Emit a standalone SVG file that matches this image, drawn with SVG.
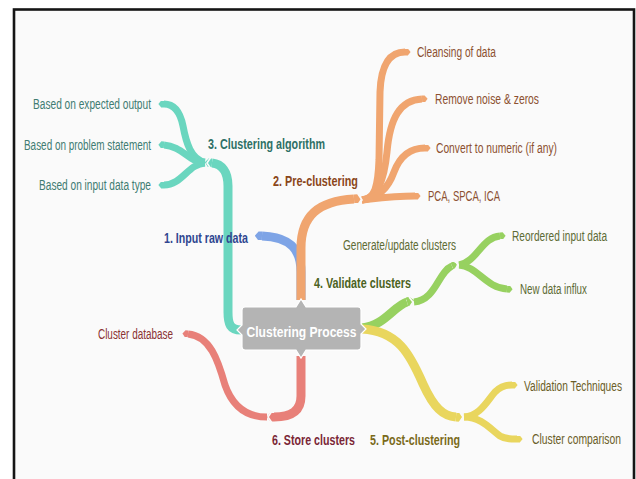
<svg xmlns="http://www.w3.org/2000/svg" width="636" height="479" viewBox="0 0 636 479">
  <defs>
    <style>
      .br { fill: none; stroke-linecap: butt; stroke-linejoin: round; }
      .main { stroke-width: 9; }
      .sub { stroke-width: 7; }
      .teal { stroke: #6ad6bf; }
      .orange { stroke: #f0a56f; }
      .blue { stroke: #7ea4e6; }
      .green { stroke: #97d160; }
      .yellow { stroke: #e9d65e; }
      .red { stroke: #e88079; }
      .notch { fill: none; stroke: #fafafa; stroke-width: 1.6; }
      text { font-family: "Liberation Sans", Arial, sans-serif; font-size: 14.5px; }
      .lbl { font-weight: bold; font-size: 15px; }
      .t-teal { fill: #3f7c72; }
      .t-orange { fill: #8c5030; }
      .t-green { fill: #5d6b34; }
      .t-yellow { fill: #6b5e28; }
      .t-red { fill: #8a3232; }
    </style>
    <marker id="tip-teal" viewBox="0 -0.5 0.8 1" refX="0" refY="0" markerWidth="0.8" markerHeight="1" orient="auto"><path d="M0,-0.5 L0.4,-0.5 L0.8,0 L0.4,0.5 L0,0.5 Z" fill="#6ad6bf"/></marker>
    <marker id="tip-orange" viewBox="0 -0.5 0.8 1" refX="0" refY="0" markerWidth="0.8" markerHeight="1" orient="auto"><path d="M0,-0.5 L0.4,-0.5 L0.8,0 L0.4,0.5 L0,0.5 Z" fill="#f0a56f"/></marker>
    <marker id="tip-blue" viewBox="0 -0.5 0.8 1" refX="0" refY="0" markerWidth="0.8" markerHeight="1" orient="auto"><path d="M0,-0.5 L0.4,-0.5 L0.8,0 L0.4,0.5 L0,0.5 Z" fill="#7ea4e6"/></marker>
    <marker id="tip-green" viewBox="0 -0.5 0.8 1" refX="0" refY="0" markerWidth="0.8" markerHeight="1" orient="auto"><path d="M0,-0.5 L0.4,-0.5 L0.8,0 L0.4,0.5 L0,0.5 Z" fill="#97d160"/></marker>
    <marker id="tip-yellow" viewBox="0 -0.5 0.8 1" refX="0" refY="0" markerWidth="0.8" markerHeight="1" orient="auto"><path d="M0,-0.5 L0.4,-0.5 L0.8,0 L0.4,0.5 L0,0.5 Z" fill="#e9d65e"/></marker>
    <marker id="tip-red" viewBox="0 -0.5 0.8 1" refX="0" refY="0" markerWidth="0.8" markerHeight="1" orient="auto"><path d="M0,-0.5 L0.4,-0.5 L0.8,0 L0.4,0.5 L0,0.5 Z" fill="#e88079"/></marker>
  </defs>

  <!-- page and frame -->
  <rect x="0" y="0" width="636" height="479" fill="#ffffff"/>
  <rect x="14" y="9.5" width="620" height="475" fill="#fafafa" stroke="#151515" stroke-width="2.6"/>

  <g id="connectors">
    <!-- 3. Clustering algorithm -->
    <path class="br main teal" d="M241,330 C230,330 228,324 228,312 L228,186 C228,172 222,164 212,163" marker-end="url(#tip-teal)"/>
    <path class="br sub teal" d="M205,162 C191,160 186,142 183,126 C180,111 174,104 164,104" marker-end="url(#tip-teal)"/>
    <path class="br sub teal" d="M205,163 C190,163 182,146 164,145" marker-end="url(#tip-teal)"/>
    <path class="br sub teal" d="M205,163 C188,164 182,185 164,185" marker-end="url(#tip-teal)"/>

    <!-- 1. Input raw data -->
    <path class="br main blue" d="M301,300 L301,272 C301,250 291,237 262,236" marker-end="url(#tip-blue)"/>

    <!-- 2. Pre-clustering -->
    <path class="br main orange" d="M301,300 L301,248 C301,216 318,201 354,199" marker-end="url(#tip-orange)"/>
    <path class="br sub orange" d="M362,200 C375,199 378,186 379,160 L380,92 C381,64 390,52 405,52" marker-end="url(#tip-orange)"/>
    <path class="br sub orange" d="M362,200 C377,198 384,182 387,152 C390,118 400,100 422,99" marker-end="url(#tip-orange)"/>
    <path class="br sub orange" d="M362,200 C380,198 389,186 394,172 C400,156 410,148 425,148" marker-end="url(#tip-orange)"/>
    <path class="br sub orange" d="M362,200 C380,198 395,196 415,196" marker-end="url(#tip-orange)"/>

    <!-- 4. Validate clusters -->
    <path class="br main green" d="M362,328 C384,326 394,306 407,302" marker-end="url(#tip-green)"/>
    <path class="br sub green" d="M414,302 C436,300 438,272 452,266" marker-end="url(#tip-green)"/>
    <path class="br sub green" d="M459,265 C477,262 482,237 500,236" marker-end="url(#tip-green)"/>
    <path class="br sub green" d="M459,265 C477,266 486,288 507,289" marker-end="url(#tip-green)"/>

    <!-- 5. Post-clustering -->
    <path class="br main yellow" d="M362,329 C398,331 410,354 423,384 C434,408 443,416 456,417" marker-end="url(#tip-yellow)"/>
    <path class="br sub yellow" d="M464,417 C480,416 487,401 495,392 C500,387 505,385 512,385" marker-end="url(#tip-yellow)"/>
    <path class="br sub yellow" d="M464,417 C482,417 491,430 500,436 C505,439 510,439 517,439" marker-end="url(#tip-yellow)"/>

    <!-- 6. Store clusters -->
    <path class="br main red" d="M301,356 L301,396 C301,411 291,417 274,417" marker-end="url(#tip-red)"/>
    <path class="br sub red" d="M267,417 C245,417 232,405 225,385 C218,360 210,336 188,334" marker-end="url(#tip-red)"/>

    <!-- junction notches -->
    <path class="notch" d="M211,157 L207,163 L211,169"/>
    <path class="notch" d="M358,194 L362,200 L358,206"/>
    <path class="notch" d="M409,297 L413,302 L409,308"/>
    <path class="notch" d="M454,259 L458,265 L454,271"/>
    <path class="notch" d="M459,411 L463,417 L459,423"/>
    <path class="notch" d="M272,411 L268,417 L272,423"/>
  </g>

  <!-- labels are set in a condensed cut: scaled 0.75 horizontally -->
  <g id="node-center">
    <path d="M245,307 L296,307 L301,299 L306,307 L358,307 Q361,307 361,310 L361,324 L366,329 L361,334 L361,347 Q361,350 358,350 L306,350 L301,358 L296,350 L245,350 Q242,350 242,347 L242,335 L237,330 L242,325 L242,310 Q242,307 245,307 Z" fill="#b4b4b4" stroke="#ffffff" stroke-width="1.2"/>
    <text transform="translate(301.5,336.5) scale(0.8,1)" text-anchor="middle" fill="#ffffff" font-weight="bold" font-size="17" textLength="137.5" lengthAdjust="spacingAndGlyphs">Clustering Process</text>
  </g>

  <g id="node-clustering-algorithm">
    <text class="lbl" transform="translate(208,148.5) scale(0.75,1)" fill="#2e7066" textLength="156" lengthAdjust="spacingAndGlyphs">3. Clustering algorithm</text>
  </g>
  <g id="node-expected-output">
    <text class="t-teal" transform="translate(33,109) scale(0.75,1)" textLength="157.3" lengthAdjust="spacingAndGlyphs">Based on expected output</text>
  </g>
  <g id="node-problem-statement">
    <text class="t-teal" transform="translate(24,150) scale(0.75,1)" textLength="169.3" lengthAdjust="spacingAndGlyphs">Based on problem statement</text>
  </g>
  <g id="node-input-data-type">
    <text class="t-teal" transform="translate(39,190) scale(0.75,1)" textLength="149.3" lengthAdjust="spacingAndGlyphs">Based on input data type</text>
  </g>

  <g id="node-input-raw-data">
    <text class="lbl" transform="translate(164,242.5) scale(0.75,1)" fill="#2f4690" textLength="112" lengthAdjust="spacingAndGlyphs">1. Input raw data</text>
  </g>

  <g id="node-pre-clustering">
    <text class="lbl" transform="translate(273,185.5) scale(0.75,1)" fill="#8a4619" textLength="113.3" lengthAdjust="spacingAndGlyphs">2. Pre-clustering</text>
  </g>
  <g id="node-cleansing">
    <text class="t-orange" transform="translate(417,57) scale(0.75,1)" textLength="105.3" lengthAdjust="spacingAndGlyphs">Cleansing of data</text>
  </g>
  <g id="node-remove-noise">
    <text class="t-orange" transform="translate(435,104) scale(0.75,1)" textLength="138.7" lengthAdjust="spacingAndGlyphs">Remove noise &amp; zeros</text>
  </g>
  <g id="node-convert-numeric">
    <text class="t-orange" transform="translate(436,153) scale(0.75,1)" textLength="161.3" lengthAdjust="spacingAndGlyphs">Convert to numeric (if any)</text>
  </g>
  <g id="node-pca">
    <text class="t-orange" transform="translate(428,201) scale(0.75,1)" textLength="96" lengthAdjust="spacingAndGlyphs">PCA, SPCA, ICA</text>
  </g>

  <g id="node-validate-clusters">
    <text class="lbl" transform="translate(314,287.5) scale(0.75,1)" fill="#4b6222" textLength="129.3" lengthAdjust="spacingAndGlyphs">4. Validate clusters</text>
  </g>
  <g id="node-generate-update">
    <text class="t-green" transform="translate(343,250) scale(0.75,1)" textLength="150.7" lengthAdjust="spacingAndGlyphs">Generate/update clusters</text>
  </g>
  <g id="node-reordered-input">
    <text class="t-green" transform="translate(512,241) scale(0.75,1)" textLength="126.7" lengthAdjust="spacingAndGlyphs">Reordered input data</text>
  </g>
  <g id="node-new-data">
    <text class="t-green" transform="translate(520,293.5) scale(0.75,1)" textLength="89.3" lengthAdjust="spacingAndGlyphs">New data influx</text>
  </g>

  <g id="node-post-clustering">
    <text class="lbl" transform="translate(370,445) scale(0.75,1)" fill="#7a6a1a" textLength="120" lengthAdjust="spacingAndGlyphs">5. Post-clustering</text>
  </g>
  <g id="node-validation-techniques">
    <text class="t-yellow" transform="translate(524,391) scale(0.75,1)" textLength="130.7" lengthAdjust="spacingAndGlyphs">Validation Techniques</text>
  </g>
  <g id="node-cluster-comparison">
    <text class="t-yellow" transform="translate(532,444) scale(0.75,1)" textLength="118.7" lengthAdjust="spacingAndGlyphs">Cluster comparison</text>
  </g>

  <g id="node-store-clusters">
    <text class="lbl" transform="translate(272,445) scale(0.75,1)" fill="#7a2636" textLength="110.7" lengthAdjust="spacingAndGlyphs">6. Store clusters</text>
  </g>
  <g id="node-cluster-database">
    <text class="t-red" transform="translate(98,339) scale(0.75,1)" textLength="100" lengthAdjust="spacingAndGlyphs">Cluster database</text>
  </g>
</svg>
